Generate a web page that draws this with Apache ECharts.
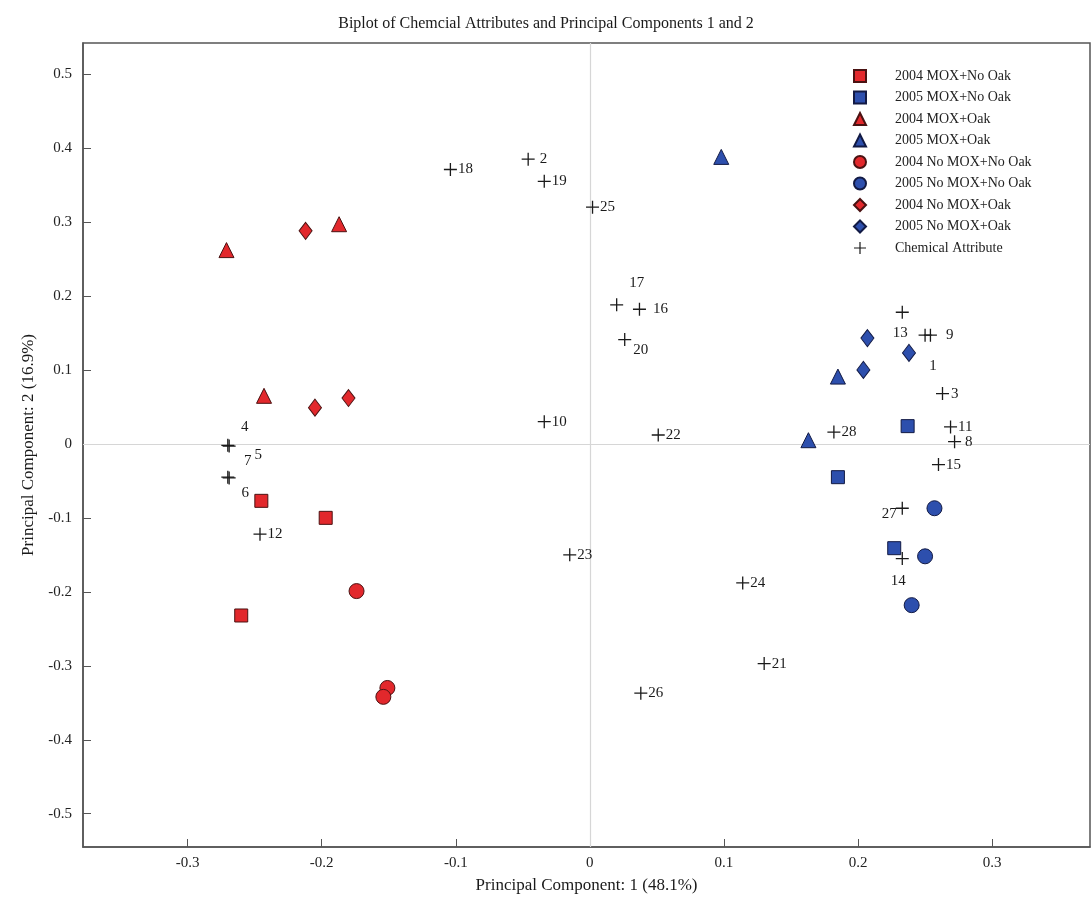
<!DOCTYPE html>
<html>
<head>
<meta charset="utf-8">
<script src="https://cdn.jsdelivr.net/npm/echarts@6/dist/echarts.min.js"></script>
<style>
  html, body { margin: 0; padding: 0; background: #fff; }
  #main { width: 1092px; height: 902px; }
</style>
</head>
<body>
<div id="main"></div>
<script>
// sample scores [PC1, PC2]
const mox04NoOak = [[-0.245, -0.077], [-0.197, -0.100], [-0.260, -0.232]];
const mox05NoOak = [[0.237, 0.024], [0.185, -0.045], [0.227, -0.141]];
const mox04Oak = [[-0.271, 0.262], [-0.187, 0.297], [-0.243, 0.065]];
const mox05Oak = [[0.098, 0.388], [0.185, 0.091], [0.163, 0.005]];
const noMox04NoOak = [[-0.174, -0.199], [-0.151, -0.330], [-0.154, -0.342]];
const noMox05NoOak = [[0.257, -0.087], [0.250, -0.152], [0.240, -0.218]];
const noMox04Oak = [[-0.212, 0.288], [-0.205, 0.049], [-0.180, 0.062]];
const noMox05Oak = [[0.207, 0.143], [0.238, 0.123], [0.204, 0.100]];

// chemical attribute loadings
const attrIds = [1, 2, 3, 4, 5, 6, 7, 8, 9, 10, 11, 12, 13, 14, 15, 16, 17, 18, 19, 20, 21, 22, 23, 24, 25, 26, 27, 28];
const attrX = [0.250, -0.046, 0.263, -0.270, -0.269, -0.269, -0.270, 0.272, 0.254, -0.034, 0.269, -0.246, 0.233, 0.233,
  0.260, 0.037, 0.020, -0.104, -0.034, 0.026, 0.130, 0.051, -0.015, 0.114, 0.002, 0.038, 0.233, 0.182];
const attrY = [0.147, 0.385, 0.068, -0.002, -0.003, -0.046, -0.045, 0.003, 0.147, 0.030, 0.023, -0.122, 0.178, -0.155,
  -0.028, 0.182, 0.188, 0.371, 0.355, 0.141, -0.297, 0.012, -0.150, -0.188, 0.320, -0.337, -0.087, 0.016];

const xTicks = [-0.3, -0.2, -0.1, 0, 0.1, 0.2, 0.3];
const yTicks = [-0.5, -0.4, -0.3, -0.2, -0.1, 0, 0.1, 0.2, 0.3, 0.4, 0.5];

// labels that are not simply to the right of their cross (offset from the cross centre)
const labelMoves = {
    1: [8, 31], 4: [17, -18], 5: [29, 9], 6: [16, 15], 7: [20, -16],
    13: [-2, 21], 14: [-4, 23], 17: [20, -22], 20: [16, 10], 27: [-13, 6]
};
const labelGaps = { 2: 5, 9: 9, 16: 7, 8: 4, 3: 2 };

const serif = "Liberation Serif";
const red = "#e2282c", redEdge = "#4a1212";
const blue = "#2d4fad", blueEdge = "#121a44";
const plusPath = "path://M5.4,0h1.2v5.4h5.4v1.2h-5.4v5.4h-1.2v-5.4h-5.4v-1.2h5.4z";

const chart = echarts.init(document.getElementById("main"));

function group(name, data, symbol, size, fill, edge) {
    return {
        name: name,
        type: "scatter",
        data: data,
        symbol: symbol,
        symbolSize: size,
        itemStyle: { color: fill, borderColor: edge, borderWidth: 1, opacity: 1 },
        z: 3
    };
}

const attrData = attrIds.map((id, i) => {
    const item = { value: [attrX[i], attrY[i]], name: String(id) };
    if (labelMoves[id]) {
        item.label = { position: "inside", offset: labelMoves[id], align: "center", verticalAlign: "middle" };
    } else if (labelGaps[id] !== undefined) {
        item.label = { distance: labelGaps[id] };
    }
    return item;
});

option = {
    backgroundColor: "#fff",
    title: {
        text: "Biplot of Chemcial Attributes and Principal Components 1 and 2",
        left: "center",
        top: 11,
        textStyle: { fontFamily: serif, fontSize: 16, fontWeight: "normal", color: "#1a1a1a" }
    },
    legend: {
        orient: "vertical",
        left: 848,
        top: 64,
        itemWidth: 12,
        itemHeight: 12,
        itemGap: 7.5,
        textStyle: { fontFamily: serif, fontSize: 14, color: "#222", padding: [0, 0, 0, 24] },
        data: ["2004 MOX+No Oak", "2005 MOX+No Oak", "2004 MOX+Oak", "2005 MOX+Oak",
            "2004 No MOX+No Oak", "2005 No MOX+No Oak", "2004 No MOX+Oak", "2005 No MOX+Oak", "Chemical Attribute"]
    },
    grid: {
        left: 83, right: 2, top: 43, bottom: 55,
        show: true, borderColor: "#555", borderWidth: 1.5, backgroundColor: "#fff"
    },
    xAxis: {
        type: "value",
        min: -0.378,
        max: 0.373,
        name: "Principal Component: 1 (48.1%)",
        nameLocation: "middle",
        nameGap: 30,
        nameTextStyle: { fontFamily: serif, fontSize: 17, color: "#1a1a1a" },
        axisLine: { show: true, onZero: false, lineStyle: { color: "#555", width: 1.5 } },
        axisTick: { show: true, inside: true, length: 8, customValues: xTicks, lineStyle: { color: "#555" } },
        axisLabel: { customValues: xTicks, fontFamily: serif, fontSize: 15, color: "#222", margin: 9 },
        splitLine: { show: false }
    },
    yAxis: {
        type: "value",
        min: -0.545,
        max: 0.542,
        name: "Principal Component: 2 (16.9%)",
        nameLocation: "middle",
        nameGap: 46,
        nameTextStyle: { fontFamily: serif, fontSize: 17, color: "#1a1a1a" },
        axisLine: { show: true, onZero: false, lineStyle: { color: "#555", width: 1.5 } },
        axisTick: { show: true, inside: true, length: 8, customValues: yTicks, lineStyle: { color: "#555" } },
        axisLabel: { customValues: yTicks, fontFamily: serif, fontSize: 15, color: "#222", margin: 11 },
        splitLine: { show: false }
    },
    series: [
        group("2004 MOX+No Oak", mox04NoOak, "rect", 13, red, redEdge),
        group("2005 MOX+No Oak", mox05NoOak, "rect", 13, blue, blueEdge),
        group("2004 MOX+Oak", mox04Oak, "triangle", 15, red, redEdge),
        group("2005 MOX+Oak", mox05Oak, "triangle", 15, blue, blueEdge),
        group("2004 No MOX+No Oak", noMox04NoOak, "circle", 15, red, redEdge),
        group("2005 No MOX+No Oak", noMox05NoOak, "circle", 15, blue, blueEdge),
        group("2004 No MOX+Oak", noMox04Oak, "diamond", [13, 17], red, redEdge),
        group("2005 No MOX+Oak", noMox05Oak, "diamond", [13, 17], blue, blueEdge),
        {
            name: "Chemical Attribute",
            type: "scatter",
            data: attrData,
            symbol: plusPath,
            symbolSize: 13,
            itemStyle: { color: "#1a1a1a", opacity: 1 },
            label: {
                show: true,
                position: "right",
                distance: 1,
                formatter: (p) => p.name,
                fontFamily: serif,
                fontSize: 15,
                color: "#1a1a1a"
            },
            markLine: {
                silent: true,
                symbol: "none",
                label: { show: false },
                lineStyle: { color: "#d6d6d6", type: "solid", width: 1.2 },
                data: [{ xAxis: 0 }, { yAxis: 0 }],
                z: 1
            },
            z: 4
        }
    ]
};

chart.setOption(option);
</script>
</body>
</html>
